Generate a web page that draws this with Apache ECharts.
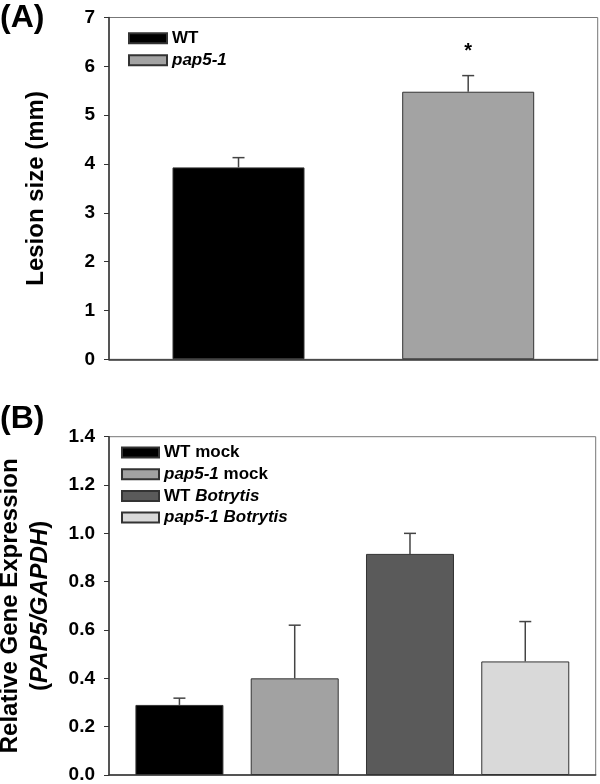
<!DOCTYPE html>
<html>
<head>
<meta charset="utf-8">
<script src="https://cdn.jsdelivr.net/npm/echarts@6/dist/echarts.min.js"></script>
<style>
    html, body { margin: 0; padding: 0; background: #fff; }
    #chart { width: 600px; height: 784px; }
</style>
</head>
<body>
<div id="chart"></div>
<script>
// (A) lesion size
var lesionGroups = ['WT', 'pap5-1'];
var lesionMean = [3.93, 5.48];
var lesionErr = [0.20, 0.33];
var lesionSig = ['', '*'];
var lesionColors = ['#000000', '#a3a3a3'];

// (B) relative expression
var exprGroups = ['WT mock', 'pap5-1 mock', 'WT Botrytis', 'pap5-1 Botrytis'];
var exprMean = [0.29, 0.40, 0.915, 0.47];
var exprErr = [0.028, 0.22, 0.085, 0.165];
var exprColors = ['#000000', '#a2a2a2', '#5a5a5a', '#d9d9d9'];

var FONT = "'Liberation Sans', Arial, sans-serif";

var myChart;
window.onload = function () {
    myChart = echarts.init(document.getElementById('chart'));
    myChart.setOption(buildOption());
};

// 斜体处理 pap5-1 / Botrytis
function legendFmt(name) {
    return name.replace('pap5-1', '{i|pap5-1}').replace('Botrytis', '{i|Botrytis}');
}

function barSeries(groups, means, colors, axisIdx, width, gap) {
    var arr = [];
    for (var i = 0; i < groups.length; i++) {
        arr.push({
            name: groups[i],
            type: 'bar',
            xAxisIndex: axisIdx,
            yAxisIndex: axisIdx,
            barWidth: width,
            barGap: gap,
            itemStyle: {
                color: colors[i],
                borderColor: '#333',
                borderWidth: 1
            },
            data: [means[i]]
        });
    }
    return arr;
}

function errSeries(means, errs, sig, axisIdx, width, gapPx) {
    var data = [];
    for (var i = 0; i < means.length; i++) {
        data.push([0, means[i], means[i] + errs[i], i]);
    }
    var n = means.length;
    var total = n * width + (n - 1) * gapPx;
    return {
        type: 'custom',
        xAxisIndex: axisIdx,
        yAxisIndex: axisIdx,
        z: 5,
        silent: true,
        data: data,
        renderItem: function (params, api) {
            var idx = api.value(3);
            var base = api.coord([api.value(0), api.value(1)]);
            var top = api.coord([api.value(0), api.value(2)]);
            var x = base[0] - total / 2 + idx * (width + gapPx) + width / 2;
            var style = { stroke: '#444', lineWidth: 1.5 };
            var children = [
                { type: 'line', shape: { x1: x, y1: base[1], x2: x, y2: top[1] }, style: style },
                { type: 'line', shape: { x1: x - 6, y1: top[1], x2: x + 6, y2: top[1] }, style: style }
            ];
            if (sig && sig[params.dataIndex]) {
                children.push({
                    type: 'text',
                    style: {
                        text: sig[params.dataIndex],
                        x: x, y: top[1] - 24,
                        align: 'center', verticalAlign: 'middle',
                        font: 'bold 20px ' + FONT,
                        fill: '#000'
                    }
                });
            }
            return { type: 'group', children: children };
        }
    };
}

function buildOption() {
    var axisLineStyle = { color: '#333', width: 1.5 };
    var tickLabel = { color: '#000', fontSize: 19, fontWeight: 'bold', fontFamily: FONT };
    var legendText = {
        color: '#000', fontSize: 17, fontWeight: 'bold', fontFamily: FONT, lineHeight: 16,
        rich: { i: { fontStyle: 'italic', fontWeight: 'bold', fontSize: 17, fontFamily: FONT, color: '#000' } }
    };
    var titleText = { fontSize: 32, fontWeight: 'bold', fontFamily: FONT, color: '#000' };

    var series = []
        .concat(barSeries(lesionGroups, lesionMean, lesionColors, 0, 132, '74%'))
        .concat(barSeries(exprGroups, exprMean, exprColors, 1, 88, '31%'));
    series.push(errSeries(lesionMean, lesionErr, lesionSig, 0, 132, 132 * 0.74));
    series.push(errSeries(exprMean, exprErr, null, 1, 88, 88 * 0.31));

    return {
        animation: false,
        backgroundColor: '#fff',
        title: [
            { text: '(A)', left: 0, top: 2, padding: 0, textStyle: titleText },
            { text: '(B)', left: 0, top: 403, padding: 0, textStyle: titleText }
        ],
        legend: [
            {
                data: lesionGroups, orient: 'vertical', left: 128, top: 29.7, padding: 0,
                itemWidth: 38, itemHeight: 10, itemGap: 5, icon: 'rect',
                formatter: legendFmt, textStyle: legendText
            },
            {
                data: exprGroups, orient: 'vertical', left: 121, top: 444, padding: 0,
                itemWidth: 37, itemHeight: 10, itemGap: 4.7, icon: 'rect',
                formatter: legendFmt, textStyle: legendText
            }
        ],
        grid: [
            { left: 109, right: 2.3, top: 17.5, bottom: 424.7, show: true, borderColor: '#777', borderWidth: 1,
              containLabel: false, outerBoundsMode: 'none' },
            { left: 109, right: 4.3, top: 436.7, bottom: 9, show: true, borderColor: '#777', borderWidth: 1,
              containLabel: false, outerBoundsMode: 'none' }
        ],
        xAxis: [0, 1].map(function (g) {
            return {
                type: 'category',
                gridIndex: g,
                data: [''],
                axisLine: { lineStyle: axisLineStyle },
                axisTick: { alignWithLabel: true, length: 5, lineStyle: { color: '#333' } },
                axisLabel: { show: false },
                splitLine: { show: false }
            };
        }),
        yAxis: [
            {
                type: 'value', gridIndex: 0, min: 0, max: 7, interval: 1,
                name: 'Lesion size (mm)', nameLocation: 'middle', nameRotate: 90, nameGap: 61,
                nameTextStyle: { color: '#000', fontSize: 24, fontWeight: 'bold', fontFamily: FONT },
                axisLine: { show: true, lineStyle: axisLineStyle },
                axisTick: { show: true, length: 5, lineStyle: { color: '#333' } },
                axisLabel: Object.assign({ margin: 14 }, tickLabel),
                splitLine: { show: false }
            },
            {
                type: 'value', gridIndex: 1, min: 0, max: 1.4, interval: 0.2,
                name: '{n|Relative Gene Expression}\n{n|(}{i|PAP5/GAPDH}{n|)}',
                nameLocation: 'middle', nameRotate: 90, nameGap: 54,
                nameTextStyle: {
                    color: '#000', fontSize: 24, fontWeight: 'bold', fontFamily: FONT, lineHeight: 30,
                    rich: {
                        n: { fontSize: 24, fontWeight: 'bold', fontFamily: FONT, color: '#000', lineHeight: 30 },
                        i: { fontSize: 24, fontWeight: 'bold', fontStyle: 'italic', fontFamily: FONT, color: '#000', lineHeight: 30 }
                    }
                },
                axisLine: { show: true, lineStyle: axisLineStyle },
                axisTick: { show: true, length: 5, lineStyle: { color: '#333' } },
                axisLabel: Object.assign({ margin: 14, formatter: function (v) { return v.toFixed(1); } }, tickLabel),
                splitLine: { show: false }
            }
        ],
        series: series
    };
}
</script>
</body>
</html>
